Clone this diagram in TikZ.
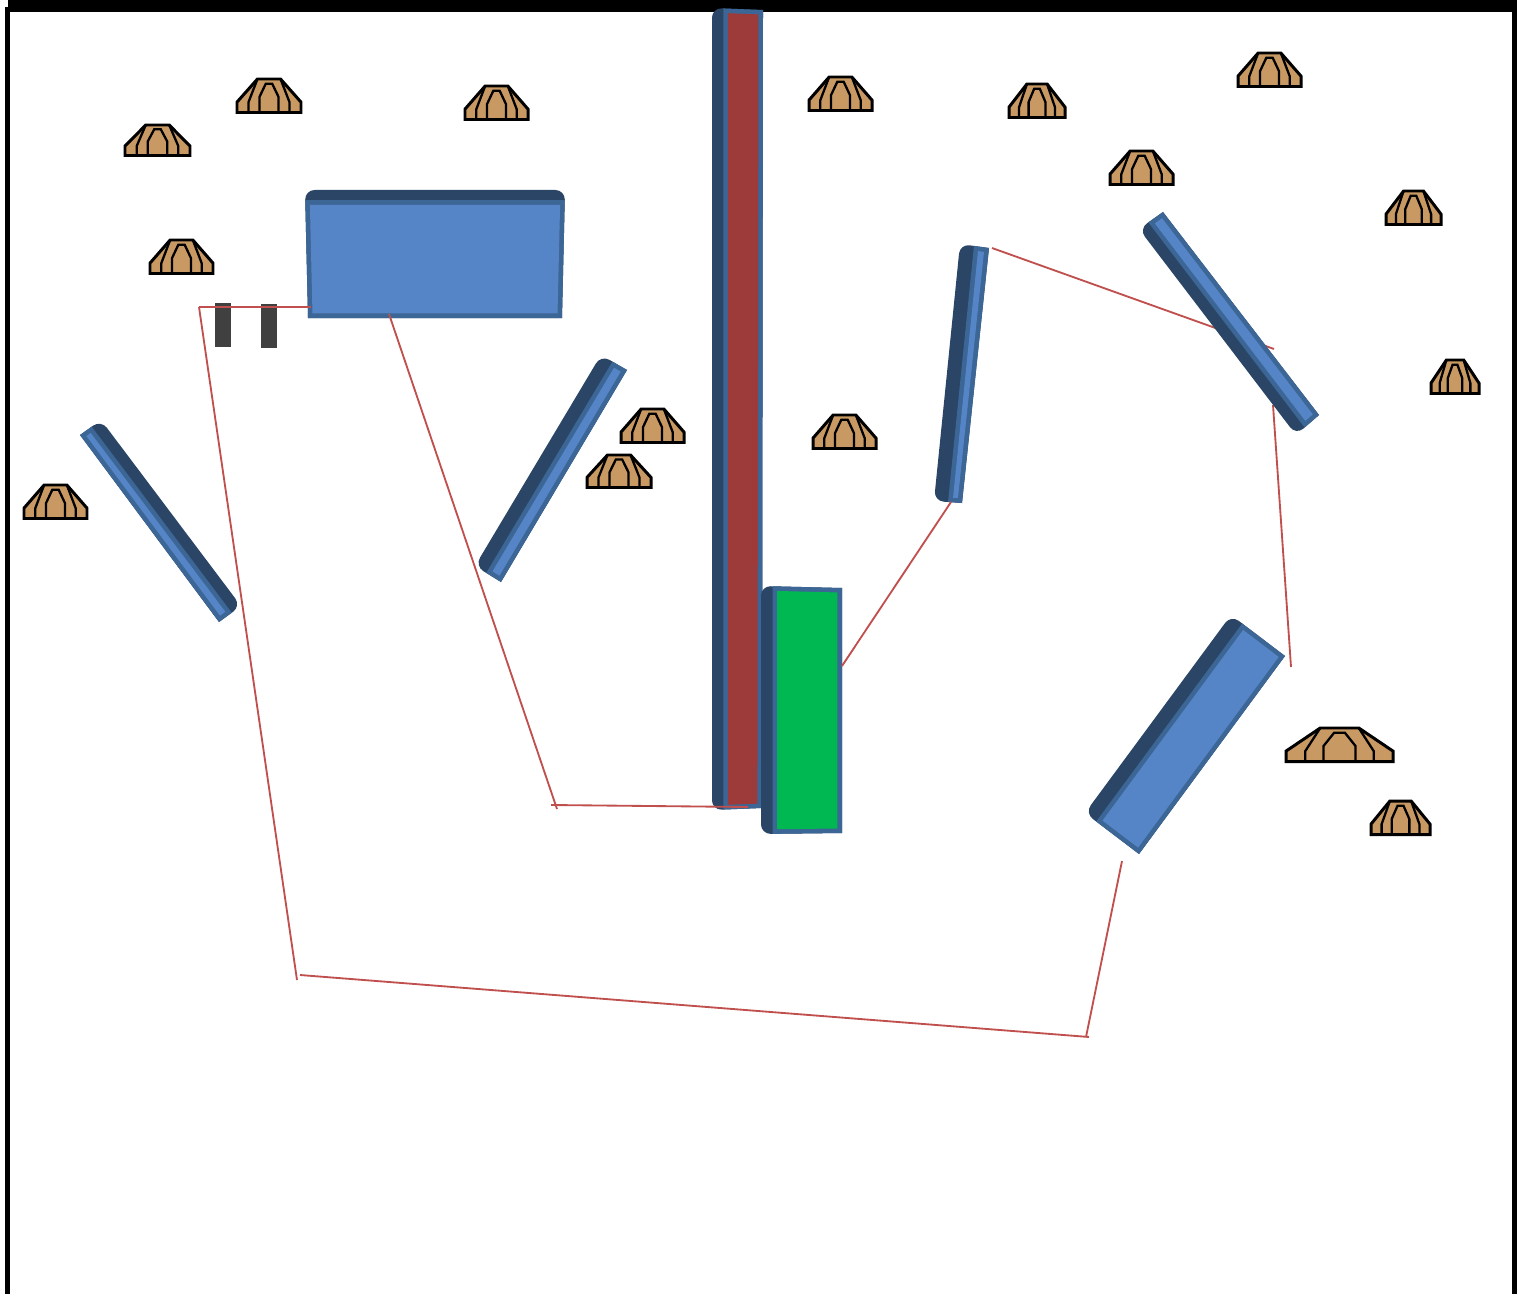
\documentclass[tikz,border=0pt]{standalone}
\usepackage{tikz}
\usetikzlibrary{calc}
\definecolor{slabdark}{HTML}{2A4565}
\definecolor{slabmid}{HTML}{3C6696}
\definecolor{slabface}{HTML}{5585C6}
\definecolor{maroonface}{HTML}{9C3B3A}
\definecolor{greenface}{HTML}{00B851}
\definecolor{moundcol}{HTML}{C89963}
\definecolor{wirecol}{HTML}{C0504D}
\definecolor{postcol}{HTML}{404040}

% corners: dark side start, far side start, far side end, dark side end; dark width (pt); face colour
\newcommand{\wallslab}[6]{%
  \def\rimw{2.6}
  \pgfmathsetmacro{\facein}{#5+\rimw}
  \coordinate (pa) at (#1);
  \coordinate (pb) at (#2);
  \coordinate (pc) at (#3);
  \coordinate (pd) at (#4);
  \fill[slabdark, rounded corners=5.5pt] (pb) -- (pa) -- (pd) -- (pc);
  \fill[slabmid] ($(pa)!#5pt!(pb)$) -- (pb) -- (pc) -- ($(pd)!#5pt!(pc)$) -- cycle;
  \coordinate (sa) at ($(pa)!\rimw pt!(pd)$);
  \coordinate (sb) at ($(pb)!\rimw pt!(pc)$);
  \coordinate (sc) at ($(pc)!\rimw pt!(pb)$);
  \coordinate (sd) at ($(pd)!\rimw pt!(pa)$);
  \fill[#6] ($(sa)!\facein pt!(sb)$) -- ($(sb)!\rimw pt!(sa)$)
    -- ($(sc)!\rimw pt!(sd)$) -- ($(sd)!\facein pt!(sc)$) -- cycle;
}

\begin{document}
\begin{tikzpicture}[
  x=0.02cm, y=-0.02cm,
  frame/.style={fill=black},
  wire/.style={draw=wirecol, line width=1.05pt},
  post/.style={fill=postcol, inner sep=0pt, minimum width=9pt, minimum height=25pt},
  mound/.style={draw=black, fill=moundcol, line width=1.7pt, line join=miter},
  ridge/.style={draw=black, line width=1.3pt}
]
\useasboundingbox (0,0) rectangle (1521,1294);

% ============ outer frame ============
\fill[frame] (8,0) rectangle (1517,12);
\fill[frame] (5,7) rectangle (10,1294);
\fill[frame] (1512,0) rectangle (1517,1294);

% ============ wire ends ============
\coordinate (hubW) at (199,307);
\coordinate (boxW) at (311,307);
\coordinate (sagA) at (297,980);
\coordinate (sagB) at (300,975);
\coordinate (lowA) at (1089,1037);
\coordinate (lowB) at (1086,1037);
\coordinate (blockS) at (1122,861);
\coordinate (blockE) at (1291,667);
\coordinate (diagS) at (1273,405);
\coordinate (diagE) at (1274,349);
\coordinate (thinN) at (992,248);
\coordinate (thinS) at (951,502);
\coordinate (greenE) at (842,666);
\coordinate (boxS) at (389,314);
\coordinate (kneeA) at (557,809);
\coordinate (kneeB) at (551,805);
\coordinate (spineS) at (748,807);

% these two run behind the slab
\draw[wire] (blockE) -- (diagS);
\draw[wire] (diagE) -- (thinN);

% ============ slabs ============
\wallslab{305,190}{308,318}{562,318}{565,190}{5.8}{slabface}     % big box
\wallslab{101,420}{80,435}{219,622}{241,606}{6.5}{slabface}      % far left
\wallslab{601,355}{627,370}{501,582}{475,566}{7.5}{slabface}     % centre left
\wallslab{712,8}{763,10}{762,808}{712,810}{6.5}{maroonface}      % spine
\wallslab{761,586}{842,588}{842,833}{761,834}{6.6}{greenface}    % green
\wallslab{960,244}{989,248}{962,503}{934,501}{8}{slabface}       % thin
\wallslab{1139,229}{1163,212}{1319,415}{1296,435}{6.5}{slabface} % diagonal
\wallslab{1231,615}{1285,656}{1139,854}{1085,813}{8}{slabface}   % block

% ============ posts ============
\node[post] (postA) at (223,325) {};
\node[post] (postB) at (269,326) {};

% ============ wires ============
\draw[wire] (hubW) -- (boxW);
\draw[wire] (hubW) -- (sagA);
\draw[wire] (sagB) -- (lowA);
\draw[wire] (lowB) -- (blockS);
\draw[wire] (thinS) -- (greenE);
\draw[wire] (boxS) -- (kneeA);
\draw[wire] (kneeB) -- (spineS);

% ============ mounds ============
\foreach \mx/\my/\mw/\mh in {125/125/65/30.5, 237/79/64/33.5, 465/86/63/33.5, 809/77/63/33.5,
  1009/84/56/33.5, 1238/53/63/33.5, 1110/151/63/33.5, 1386/191/55/33.5, 150/240/63/33.5,
  1431/360/48/33.5, 621/409/63/33.5, 587/455/64/32.5, 813/415/63/33.5, 24/485/63/33.5,
  1286/728/107/33.5, 1371/801/59/33.5}{
  \begin{scope}[shift={(\mx,\my)}, xscale=\mw, yscale=\mh]
    \draw[mound] (0,1) -- (0,0.69) -- (0.32,0) -- (0.68,0) -- (1,0.69) -- (1,1) -- cycle;
    \draw[ridge] (0.18,1) -- (0.18,0.69) -- (0.32,0);
    \draw[ridge] (0.82,1) -- (0.82,0.69) -- (0.68,0);
    \draw[ridge] (0.35,1) -- (0.35,0.54) -- (0.45,0.14) -- (0.55,0.14) -- (0.65,0.54) -- (0.65,1);
  \end{scope}
}

\end{tikzpicture}
\end{document}
